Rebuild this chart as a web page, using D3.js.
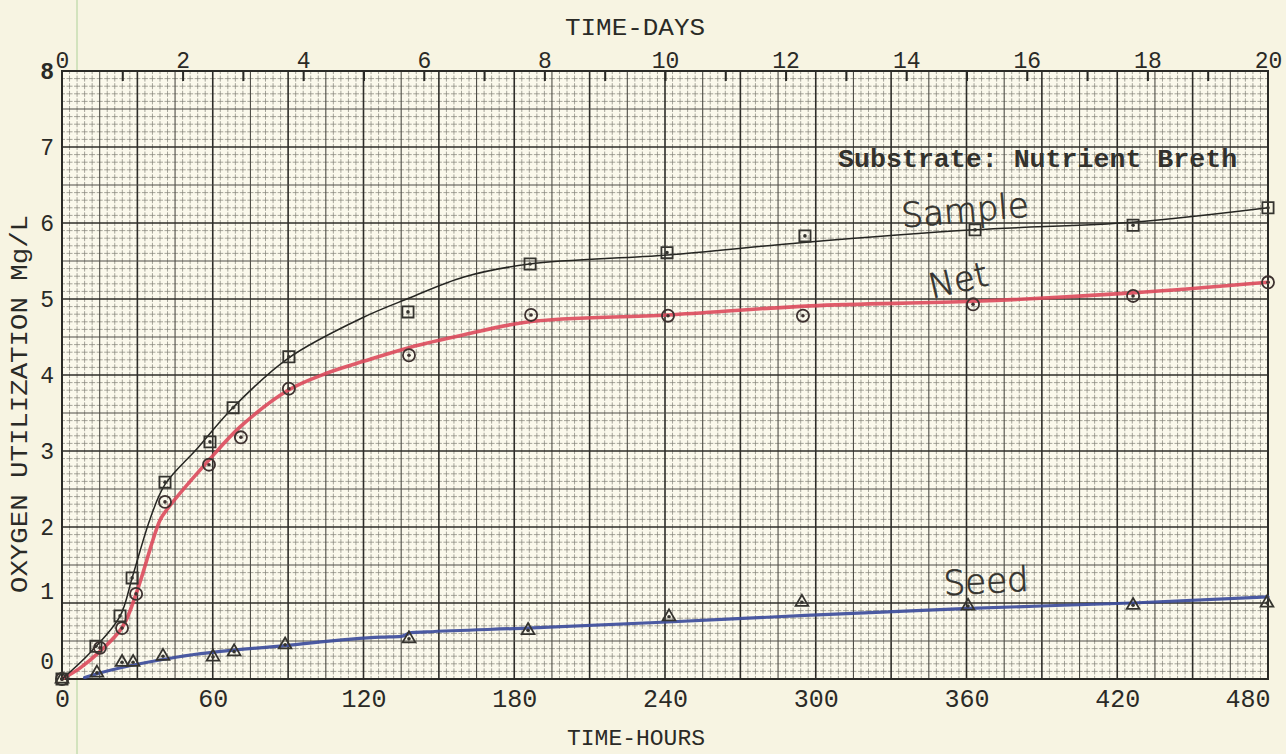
<!DOCTYPE html>
<html>
<head>
<meta charset="utf-8">
<script src="https://cdn.jsdelivr.net/npm/d3@7"></script>
<style>
  html, body { margin: 0; padding: 0; background: #f7f4e2; }
  svg { display: block; }
</style>
</head>
<body>
<svg id="chart" width="1286" height="754"></svg>
<script>
// ---- axis ticks -------------------------------------------------------
const hourTicks = [0, 60, 120, 180, 240, 300, 360, 420, 480];
const dayTicks = d3.range(0, 21);            // a tick every day, labels on even days
const valueTicks = [0, 1, 2, 3, 4, 5, 6, 7, 8];

// ---- measured points (hours, mg/L) --------------------------------------
const sampleHours  = [0, 13.5, 23.1, 27.9, 41.0, 58.9, 68.1, 90.3, 137.7, 186.3, 240.8, 295.7, 363.4, 426.3, 480];
const sampleValues = [0, 0.43, 0.83, 1.33, 2.59, 3.12, 3.57, 4.24, 4.83, 5.46, 5.61, 5.83, 5.91, 5.97, 6.20];

const netHours  = [0, 15.1, 23.9, 29.5, 41.0, 58.5, 71.2, 90.3, 138.1, 186.7, 241.2, 294.9, 362.6, 426.3, 480];
const netValues = [0, 0.41, 0.67, 1.12, 2.33, 2.82, 3.18, 3.82, 4.26, 4.79, 4.78, 4.78, 4.93, 5.04, 5.22];

const seedHours  = [0, 13.9, 23.9, 28.3, 40.2, 60.1, 68.5, 88.8, 138.1, 185.5, 241.6, 294.5, 360.6, 426.3, 479.6];
const seedValues = [0, 0.08, 0.22, 0.22, 0.30, 0.29, 0.36, 0.45, 0.53, 0.64, 0.82, 1.01, 0.96, 0.97, 1.00];

// ---- hand-drawn smoothing curves (hours, mg/L) --------------------------
const sampleFitHours  = [0, 11, 23, 28, 35, 41, 54, 68, 90, 120, 138, 160, 186, 241, 294, 363, 426, 480];
const sampleFitValues = [0, 0.34, 0.82, 1.34, 2.10, 2.56, 3.04, 3.57, 4.22, 4.76, 5.01, 5.29, 5.46, 5.58, 5.74, 5.91, 6.01, 6.20];

const netFitHours  = [0, 7, 15, 24, 30, 39, 42, 59, 71, 90, 105, 120, 138, 160, 186, 241, 298, 363, 426, 480];
const netFitValues = [0, 0.14, 0.36, 0.68, 1.17, 2.09, 2.24, 2.90, 3.32, 3.80, 4.02, 4.18, 4.36, 4.53, 4.70, 4.79, 4.91, 4.97, 5.08, 5.22];

const seedFitHours  = [9, 14, 46, 89, 127, 135, 139, 145, 185, 241, 298, 361, 426, 480];
const seedFitValues = [0.02, 0.07, 0.29, 0.44, 0.55, 0.56, 0.61, 0.62, 0.67, 0.75, 0.84, 0.93, 1.00, 1.08];

// ---- layout -------------------------------------------------------------
const svg = d3.select("#chart");
const x = d3.scaleLinear().domain([0, 480]).range([62, 1268]);
const xDays = d3.scaleLinear().domain([0, 20]).range([62, 1268]);
const y = d3.scaleLinear().domain([0, 8]).range([679, 71]);

const mono = "'Liberation Mono', 'Courier New', monospace";
const ink = "#2a2a26";

// faint green margin rule of the paper
svg.append("line")
  .attr("x1", 77).attr("x2", 77).attr("y1", 0).attr("y2", 754)
  .attr("stroke", "#c4ddb0").attr("stroke-width", 2).attr("opacity", 0.7);

// plot paper
svg.append("rect")
  .attr("x", x(0)).attr("y", y(8))
  .attr("width", x(480) - x(0)).attr("height", y(0) - y(8))
  .attr("fill", "#fbf9ec");

// ---- graph-paper grid ---------------------------------------------------
const gridV = d3.range(0, 161).map(i => ({ i, h: i * 3 }));
const gridH = d3.range(0, 81).map(i => ({ i, v: i / 10 }));
const cellX = x(3) - x(0);
const cellY = y(0) - y(0.1);
const grid = svg.append("g");

function level(i) { return i % 10 === 0 ? 2 : (i % 5 === 0 ? 1 : 0); }

// fine rulings, slightly broken like printed paper
grid.selectAll("line.fv").data(gridV.filter(d => level(d.i) === 0)).join("line")
  .attr("class", "fv")
  .attr("x1", d => x(d.h)).attr("x2", d => x(d.h))
  .attr("y1", y(8)).attr("y2", y(0))
  .attr("stroke", "#85847a").attr("stroke-width", 1).attr("opacity", 0.72)
  .attr("stroke-dasharray", `${cellY * 0.8},${cellY * 0.2}`)
  .attr("stroke-dashoffset", cellY * 0.4);
grid.selectAll("line.fh").data(gridH.filter(d => level(d.i) === 0)).join("line")
  .attr("class", "fh")
  .attr("x1", x(0)).attr("x2", x(480))
  .attr("y1", d => y(d.v)).attr("y2", d => y(d.v))
  .attr("stroke", "#85847a").attr("stroke-width", 1).attr("opacity", 0.72)
  .attr("stroke-dasharray", `${cellX * 0.8},${cellX * 0.2}`)
  .attr("stroke-dashoffset", cellX * 0.4);

// half-inch and inch rulings
const strong = [null, { c: "#4e4d46", w: 1.1 }, { c: "#2e2d29", w: 1.6 }];
grid.selectAll("line.sv").data(gridV.filter(d => level(d.i) > 0)).join("line")
  .attr("class", "sv")
  .attr("x1", d => x(d.h)).attr("x2", d => x(d.h))
  .attr("y1", y(8)).attr("y2", y(0))
  .attr("stroke", d => strong[level(d.i)].c)
  .attr("stroke-width", d => strong[level(d.i)].w);
grid.selectAll("line.sh").data(gridH.filter(d => level(d.i) > 0)).join("line")
  .attr("class", "sh")
  .attr("x1", x(0)).attr("x2", x(480))
  .attr("y1", d => y(d.v)).attr("y2", d => y(d.v))
  .attr("stroke", d => strong[level(d.i)].c)
  .attr("stroke-width", d => strong[level(d.i)].w);

// frame
svg.append("rect")
  .attr("x", x(0)).attr("y", y(8))
  .attr("width", x(480) - x(0)).attr("height", y(0) - y(8))
  .attr("fill", "none").attr("stroke", ink).attr("stroke-width", 2);

// ---- axes ---------------------------------------------------------------
const axisBottom = d3.axisBottom(x).tickValues(hourTicks).tickSize(0).tickPadding(9);
const gB = svg.append("g").attr("transform", `translate(0,${y(0)})`).call(axisBottom);
gB.select(".domain").remove();
gB.selectAll("text")
  .attr("font-family", mono).attr("font-size", 25).attr("fill", ink)
  .attr("dy", "0.75em")
  .attr("text-anchor", d => d === 480 ? "end" : "middle")
  .attr("dx", d => d === 480 ? 2 : 0);

const axisTop = d3.axisTop(xDays).tickValues(dayTicks).tickSize(-10)
  .tickFormat(d => d % 2 === 0 ? String(d) : "").tickPadding(3);
const gT = svg.append("g").attr("transform", `translate(0,${y(8)})`).call(axisTop);
gT.select(".domain").remove();
gT.selectAll(".tick line").attr("stroke", ink).attr("stroke-width", 2)
  .attr("display", d => (d === 0 || d === 20) ? "none" : null);
gT.selectAll("text")
  .attr("font-family", mono).attr("font-size", 23).attr("fill", ink)
  .attr("dy", "0em");

const axisLeft = d3.axisLeft(y).tickValues(valueTicks).tickSize(0).tickPadding(8);
const gL = svg.append("g").attr("transform", `translate(${x(0)},0)`).call(axisLeft);
gL.select(".domain").remove();
gL.selectAll("text")
  .attr("font-family", mono).attr("font-size", 23).attr("fill", ink)
  .attr("font-weight", d => d === 8 ? "bold" : "normal")
  .attr("dy", d => d === 0 ? "-0.45em" : (d === 1 ? "-0.2em" : "0.32em"));

// axis titles
svg.append("text")
  .attr("x", 635).attr("y", 35)
  .attr("text-anchor", "middle")
  .attr("font-family", mono).attr("font-size", 24).attr("fill", ink)
  .attr("textLength", 140).attr("lengthAdjust", "spacingAndGlyphs")
  .text("TIME-DAYS");

svg.append("text")
  .attr("x", 636).attr("y", 745)
  .attr("text-anchor", "middle")
  .attr("font-family", mono).attr("font-size", 22).attr("fill", ink)
  .attr("textLength", 138).attr("lengthAdjust", "spacingAndGlyphs")
  .text("TIME-HOURS");

svg.append("text")
  .attr("transform", "translate(27,404) rotate(-90)")
  .attr("text-anchor", "middle")
  .attr("font-family", mono).attr("font-size", 23).attr("fill", ink)
  .attr("textLength", 378).attr("lengthAdjust", "spacingAndGlyphs")
  .text("OXYGEN UTILIZATION Mg/L");

// substrate note
svg.append("text")
  .attr("x", x(308.9)).attr("y", y(6.74))
  .attr("font-family", mono).attr("font-size", 26).attr("font-weight", "bold")
  .attr("fill", "#33322d")
  .attr("textLength", 399).attr("lengthAdjust", "spacingAndGlyphs")
  .text("Substrate: Nutrient Breth");

// ---- fitted curves ------------------------------------------------------
const zip = (hs, vs) => hs.map((h, i) => ({ h, v: vs[i] }));
const smooth = d3.line().x(d => x(d.h)).y(d => y(d.v)).curve(d3.curveCatmullRom.alpha(0.5));
const monotone = d3.line().x(d => x(d.h)).y(d => y(d.v)).curve(d3.curveMonotoneX);

svg.append("path").datum(zip(seedFitHours, seedFitValues))
  .attr("d", monotone).attr("fill", "none")
  .attr("stroke", "#3d4d9c").attr("stroke-width", 3.2).attr("opacity", 0.92)
  .attr("stroke-linecap", "round");
svg.append("path").datum(zip(netFitHours, netFitValues))
  .attr("d", smooth).attr("fill", "none")
  .attr("stroke", "#dd4a5c").attr("stroke-width", 3.6).attr("opacity", 0.9)
  .attr("stroke-linecap", "round");
svg.append("path").datum(zip(sampleFitHours, sampleFitValues))
  .attr("d", smooth).attr("fill", "none")
  .attr("stroke", "#262622").attr("stroke-width", 1.5);

// ---- markers ------------------------------------------------------------
function markers(cls, hs, vs, type, size, color) {
  const g = svg.append("g").attr("class", cls);
  const pts = zip(hs, vs);
  g.selectAll("path").data(pts).join("path")
    .attr("transform", d => `translate(${x(d.h)},${y(d.v)})`)
    .attr("d", d3.symbol().type(type).size(size))
    .attr("fill", "none").attr("stroke", color).attr("stroke-width", 1.8);
  g.selectAll("circle").data(pts).join("circle")
    .attr("cx", d => x(d.h)).attr("cy", d => y(d.v)).attr("r", 1.8)
    .attr("fill", color);
}
markers("seed", seedHours, seedValues, d3.symbolTriangle, 70, "#35342f");
markers("net", netHours, netValues, d3.symbolCircle, 115, "#3e3230");
markers("sample", sampleHours, sampleValues, d3.symbolSquare, 125, "#35342f");

// ---- hand-lettered series names -----------------------------------------
const hand = "'DejaVu Sans', sans-serif";
const names = [
  { t: "Sample", h: 359.4, v: 6.17, a: -5 },
  { t: "Net", h: 356.7, v: 5.25, a: -13 },
  { t: "Seed", h: 367.8, v: 1.29, a: -3 }
];
svg.selectAll("text.name").data(names).join("text")
  .attr("class", "name")
  .attr("transform", d => `translate(${x(d.h)},${y(d.v)}) rotate(${d.a})`)
  .attr("text-anchor", "middle").attr("dominant-baseline", "central")
  .attr("font-family", hand).attr("font-weight", 200).attr("font-size", 34)
  .attr("fill", "#34332e").attr("stroke", "#34332e").attr("stroke-width", 0.7)
  .text(d => d.t);
</script>
</body>
</html>
